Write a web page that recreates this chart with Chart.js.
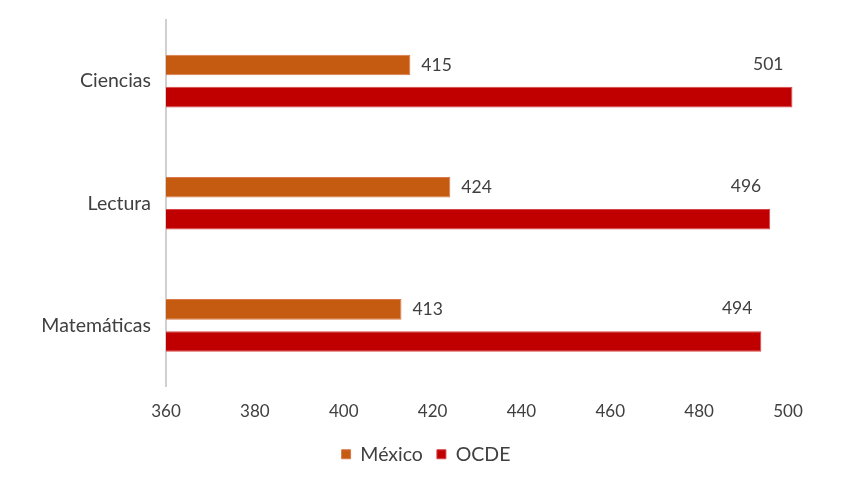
<!DOCTYPE html>
<html>
<head>
<meta charset="utf-8">
<script src="https://cdn.jsdelivr.net/npm/chart.js@4/dist/chart.umd.min.js"></script>
<style>
  html, body { margin: 0; padding: 0; background: #fff; }
  #wrap { width: 862px; height: 499px; }
</style>
</head>
<body>
<div id="wrap"><canvas id="chart" width="862" height="499"></canvas></div>
<script>
const categories = ['Ciencias', 'Lectura', 'Matemáticas'];
const mexico = [415, 424, 413];
const ocde = [501, 496, 494];
const xTicks = [360, 380, 400, 420, 440, 460, 480, 500];

const FONT = 'Lato, "Open Sans", sans-serif';
const TEXT = '#404040';

// value labels: México to the right of its bar, OCDE above-left of its end
const valueLabels = {
  id: 'valueLabels',
  afterDatasetsDraw(chart) {
    const ctx = chart.ctx;
    ctx.save();
    ctx.font = '17.5px ' + FONT;
    ctx.fillStyle = TEXT;
    ctx.textBaseline = 'middle';
    chart.getDatasetMeta(0).data.forEach((bar, i) => {
      ctx.textAlign = 'left';
      ctx.fillText(String(mexico[i]), bar.x + 11, bar.y);
    });
    chart.getDatasetMeta(1).data.forEach((bar, i) => {
      ctx.textAlign = 'right';
      ctx.fillText(String(ocde[i]), bar.x - 9, bar.y - 33);
    });
    ctx.restore();
  },
};

function noVerticalPadding(axis) {
  axis.paddingTop = 0;
  axis.paddingBottom = 0;
}

new Chart(document.getElementById('chart'), {
  type: 'bar',
  data: {
    labels: categories,
    datasets: [
      {
        label: 'México',
        data: mexico,
        backgroundColor: '#C55A11',
        borderColor: '#D9794A',
        borderWidth: 1,
        base: 360,
        clip: false,
      },
      {
        label: 'OCDE',
        data: ocde,
        backgroundColor: '#C00000',
        borderColor: '#D64545',
        borderWidth: 1,
        base: 360,
        clip: false,
      },
    ],
  },
  options: {
    indexAxis: 'y',
    responsive: false,
    animation: false,
    devicePixelRatio: 1,
    layout: { padding: { top: 20, right: 10, left: 0, bottom: 25 } },
    datasets: { bar: { categoryPercentage: 0.525, barPercentage: 0.64 } },
    scales: {
      x: {
        min: 360,
        max: 500,
        afterBuildTicks(axis) { axis.ticks = xTicks.map((v) => ({ value: v })); },
        afterFit(axis) { axis.height = 44; },
        grid: { display: false, drawTicks: false },
        border: { display: false },
        ticks: { color: TEXT, font: { family: FONT, size: 17 }, padding: 15 },
      },
      y: {
        afterFit(axis) { axis.width = 166; noVerticalPadding(axis); },
        grid: { display: false, drawTicks: false },
        border: { display: true, color: '#D0D0D0', width: 2 },
        ticks: { color: TEXT, font: { family: FONT, size: 19.5 }, padding: 15 },
      },
      // empty right-hand axis, only to keep space right of the plot
      spacer: {
        type: 'linear',
        position: 'right',
        afterFit(axis) { axis.width = 64; noVerticalPadding(axis); },
        grid: { display: false, drawTicks: false },
        border: { display: false },
        ticks: { display: false },
      },
    },
    plugins: {
      legend: {
        position: 'bottom',
        labels: {
          color: TEXT,
          font: { family: FONT, size: 19.5 },
          boxWidth: 9,
          boxHeight: 9,
          padding: 14,
        },
      },
      tooltip: { enabled: false },
    },
  },
  plugins: [valueLabels],
});
</script>
</body>
</html>
